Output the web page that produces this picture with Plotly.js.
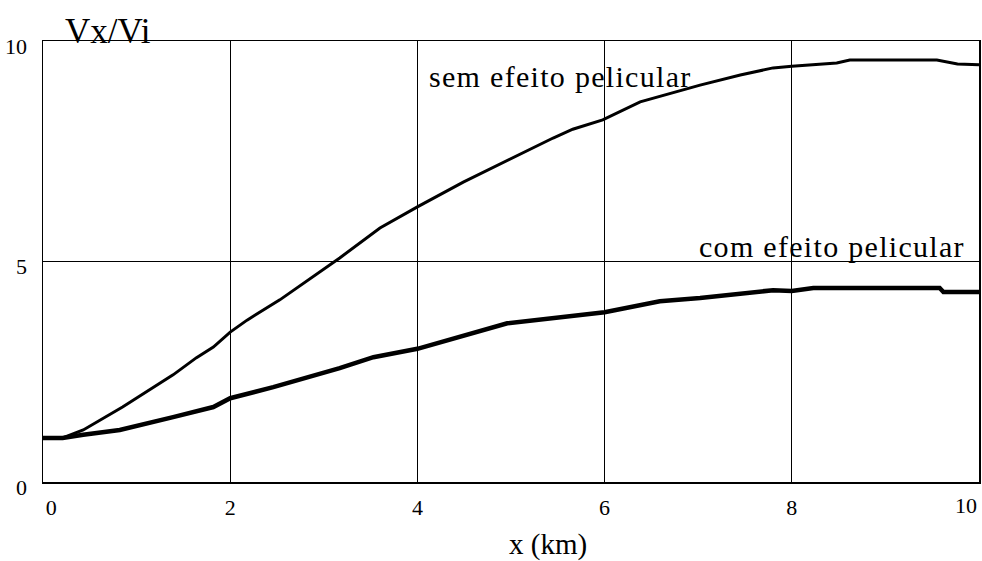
<!DOCTYPE html>
<html>
<head>
<meta charset="utf-8">
<script src="https://cdn.plot.ly/plotly-3.0.1.min.js"></script>
<style>
html,body{margin:0;padding:0;background:#fff;}
#chart{width:982px;height:561px;}
#chart g.annotation[data-index="0"] text,
#chart g.annotation[data-index="1"] text{letter-spacing:1.3px;}
</style>
</head>
<body>
<div id="chart"></div>
<script>
// Upper curve: "sem efeito pelicular"
const semX = [0, 0.21, 0.43, 0.85, 1.39, 1.64, 1.82, 2.0, 2.18, 2.53, 3.17, 3.6, 4.0, 4.49, 5.45, 5.66, 5.98, 6.38, 7.02, 7.45, 7.8, 8.0, 8.48, 8.62, 9.55, 9.77, 10];
const semY = [1.0, 1.0, 1.18, 1.7, 2.43, 2.82, 3.06, 3.4, 3.67, 4.13, 5.08, 5.76, 6.24, 6.8, 7.8, 8.0, 8.21, 8.62, 9.0, 9.23, 9.39, 9.43, 9.5, 9.57, 9.57, 9.48, 9.46];
// Lower curve: "com efeito pelicular"
const comX = [0, 0.21, 0.43, 0.82, 1.39, 1.82, 2.0, 2.46, 3.17, 3.53, 4.0, 4.96, 6.0, 6.59, 7.02, 7.8, 8.0, 8.23, 9.58, 9.62, 10];
const comY = [1.0, 1.0, 1.07, 1.18, 1.47, 1.7, 1.9, 2.15, 2.58, 2.83, 3.02, 3.6, 3.85, 4.1, 4.17, 4.35, 4.33, 4.4, 4.4, 4.31, 4.31];
const xTicks = [0, 2, 4, 6, 8];
const xTickText = ["\u00A0\u00A0\u00A00", "2", "4", "6", "8"];
const xEndTick = [10];
const xEndTickText = ["10"];
const yTicks = [0, 5, 10];
const yTickText = ["0", "5", "10"];
const labels = ["sem efeito pelicular", "com efeito pelicular"];
const yTitle = "Vx/Vi";
const xTitle = "x (km)";

const serif = "Liberation Serif, Times New Roman, serif";

const traces = [
  {x: semX, y: semY, mode: "lines", line: {color: "#000", width: 3}, name: labels[0], hoverinfo: "skip"},
  {x: comX, y: comY, mode: "lines", line: {color: "#000", width: 4.5}, name: labels[1], hoverinfo: "skip"},
  {x: [], y: [], xaxis: "x2", mode: "lines", hoverinfo: "skip", showlegend: false}
];

const layout = {
  width: 982, height: 561,
  margin: {l: 43, r: 3, t: 41, b: 79},
  paper_bgcolor: "#fff", plot_bgcolor: "#fff",
  showlegend: false,
  font: {family: serif, color: "#000", size: 22},
  xaxis: {
    range: [0, 10], tickvals: xTicks, ticktext: xTickText,
    showgrid: true, gridcolor: "#000", gridwidth: 1,
    showline: true, linecolor: "#000", linewidth: 1.5, mirror: true,
    zeroline: false, ticks: "", ticklabelstandoff: 5,
    tickfont: {family: serif, size: 22},
    title: {text: ""}
  },
  xaxis2: {
    overlaying: "x", anchor: "y", side: "bottom",
    range: [0, 10], tickvals: xEndTick, ticktext: xEndTickText,
    showgrid: false, showline: false, zeroline: false, ticks: "",
    ticklabelstandoff: 8, ticklabelshift: -13,
    tickfont: {family: serif, size: 22},
    title: {text: ""}
  },
  yaxis: {
    range: [0, 10], tickvals: yTicks, ticktext: yTickText,
    showgrid: true, gridcolor: "#000", gridwidth: 1,
    showline: true, linecolor: "#000", linewidth: 1.5, mirror: true,
    zeroline: false, ticks: "", ticklabelstandoff: 10,
    ticklabelshift: 5,
    tickfont: {family: serif, size: 22},
    title: {text: ""}
  },
  annotations: [
    {text: labels[0], x: 5.53, y: 9.2, xref: "x", yref: "y", showarrow: false,
     xanchor: "center", yanchor: "middle",
     font: {family: serif, size: 30, color: "#000"}},
    {text: labels[1], x: 8.43, y: 5.34, xref: "x", yref: "y", showarrow: false,
     xanchor: "center", yanchor: "middle",
     font: {family: serif, size: 30, color: "#000"}},
    {text: yTitle, x: 108, y: 32, xref: "paper", yref: "paper", showarrow: false,
     xanchor: "center", yanchor: "middle",
     font: {family: serif, size: 35, color: "#000"}},
    {text: xTitle, x: 548, y: 544, xref: "paper", yref: "paper", showarrow: false,
     xanchor: "center", yanchor: "middle",
     font: {family: serif, size: 29, color: "#000"}}
  ]
};
// convert pixel-placed title annotations to paper fractions
layout.annotations.forEach(a => {
  if (a.xref === "paper") {
    const pw = 982 - layout.margin.l - layout.margin.r;
    const ph = 561 - layout.margin.t - layout.margin.b;
    a.x = (a.x - layout.margin.l) / pw;
    a.y = (561 - layout.margin.b - a.y) / ph;
  }
});

Plotly.newPlot("chart", traces, layout, {staticPlot: true, displayModeBar: false});
</script>
</body>
</html>
